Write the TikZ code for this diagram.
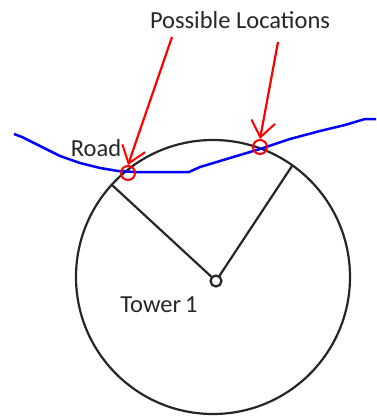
\documentclass[tikz,border=0pt]{standalone}
\usepackage{fontspec}
\setmainfont{Carlito}
\usetikzlibrary{arrows.meta}
\begin{document}
\begin{tikzpicture}[x=1pt,y=-1pt,
  blk/.style={draw=black!85,line width=2.2pt},
  road/.style={draw=blue,line width=2.5pt,line join=round},
  loc/.style={draw=red,line width=2pt},
  pointer/.style={draw=red,line width=2.2pt,-{Straight Barb[length=16pt,width=24pt,line width=2pt]}},
  lbl/.style={inner sep=0pt,font=\fontsize{24.5}{28}\selectfont,text=black!85}]
\useasboundingbox (0,0) rectangle (376,417);
\draw[blk] (213,277) circle[radius=137];
\coordinate (T) at (216,281);
\coordinate (A) at (112,185);
\coordinate (B) at (292,166);
\draw[blk] (A) -- (T) -- (B);
\draw[blk,fill=white] (T) circle[radius=5.5];
\draw[road] (14,134) -- (22,137) -- (40,146) -- (60,156) -- (80,163) -- (100,168) -- (118,171) -- (135,172) -- (189,172) -- (200,167) -- (230,158) -- (260,149) -- (290,139) -- (320,131) -- (345,125) -- (365,119) -- (376,119);
\node[loc,circle,inner sep=0pt,minimum size=14pt] (L1) at (128,173) {};
\node[loc,circle,inner sep=0pt,minimum size=14pt] (L2) at (260,147) {};
\node[lbl] (PL) at (240,20) {Possible Locations};
\coordinate (P1) at (172,37);
\coordinate (P2) at (278,42);
\draw[pointer] (P1) -- (L1.north);
\draw[pointer] (P2) -- (L2.north);
\node[lbl] (R) at (96,148) {Road};
\node[lbl] (TW) at (159,305) {Tower\,1};
\end{tikzpicture}
\end{document}
